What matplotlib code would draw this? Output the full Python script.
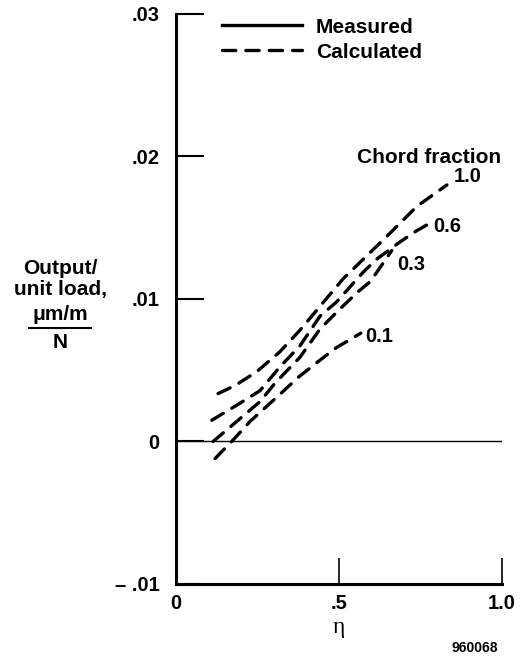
import numpy as np
import matplotlib.pyplot as plt
from matplotlib.lines import Line2D

plt.rcParams['font.family'] = ['Liberation Sans', 'DejaVu Sans']

# calculated curves (eta, output per unit load)
eta_10 = [0.129, 0.181, 0.248, 0.319, 0.380, 0.512, 0.647, 0.739, 0.831]
out_10 = [0.00336, 0.00392, 0.0049, 0.0063, 0.0078, 0.0114, 0.0144, 0.0165, 0.0180]

eta_06 = [0.110, 0.186, 0.258, 0.319, 0.380, 0.442, 0.493, 0.575, 0.616, 0.687, 0.739, 0.770]
out_06 = [0.00149, 0.00254, 0.00357, 0.00524, 0.0067, 0.0088, 0.0098, 0.0119, 0.0128,
          0.0140, 0.0148, 0.0152]

eta_03 = [0.114, 0.258, 0.304, 0.380, 0.442, 0.503, 0.558, 0.595, 0.617, 0.662]
out_03 = [0.0, 0.0028, 0.0041, 0.0059, 0.0079, 0.0093, 0.0105, 0.0112, 0.0119, 0.0134]

eta_01 = [0.120, 0.175, 0.227, 0.309, 0.375, 0.447, 0.493, 0.567]
out_01 = [-0.0012, 0.0001, 0.0014, 0.0031, 0.0045, 0.0058, 0.0066, 0.0076]

labels = ['1.0', '0.6', '0.3', '0.1']
label_pos = [(0.852, 0.0186), (0.788, 0.0151), (0.678, 0.01245), (0.580, 0.00734)]

xticks = [0, 0.5, 1.0]
xtick_labels = ['0', '.5', '1.0']
yticks = [-0.01, 0, 0.01, 0.02, 0.03]
ytick_labels = ['\u2013 .01', '0', '.01', '.02', '.03']

fig = plt.figure(figsize=(5.28, 6.58), dpi=100)
ax = fig.add_axes([0.3333, 0.1125, 0.6174, 0.8663])

dash = dict(color='black', lw=2.4, dashes=(4, 3.0), dash_capstyle='round')
for xs, ys in [(eta_10, out_10), (eta_06, out_06), (eta_03, out_03), (eta_01, out_01)]:
    ax.plot(xs, ys, **dash)

for lab, (lx, ly) in zip(labels, label_pos):
    ax.text(lx, ly, lab, fontsize=14.5, fontweight='bold', va='center', ha='left')
ax.text(0.776, 0.0199, 'Chord fraction', fontsize=15, fontweight='bold',
        va='center', ha='center')

ax.axhline(0, color='black', lw=1.0, xmin=0, xmax=1)

ax.set_xlim(0, 1.0)
ax.set_ylim(-0.01, 0.03)
ax.spines['top'].set_visible(False)
ax.spines['right'].set_visible(False)
ax.spines['left'].set_linewidth(2.2)
ax.spines['bottom'].set_linewidth(2.2)

ax.set_xticks(xticks)
ax.set_xticklabels(xtick_labels, fontsize=14.5, fontweight='bold')
ax.set_yticks(yticks)
ax.set_yticklabels(ytick_labels, fontsize=14.5, fontweight='bold')
ax.tick_params(axis='x', direction='in', length=19, width=1.2, pad=7)
ax.tick_params(axis='y', direction='in', length=20, width=1.5, pad=12)

ax.set_xlabel('\u03b7', fontsize=17, family='Liberation Serif', labelpad=3)

# legend
h1 = Line2D([], [], color='black', lw=2.4)
h2 = Line2D([], [], **dash)
ax.legend([h1, h2], ['Measured', 'Calculated'], loc='upper left',
          bbox_to_anchor=(0.108, 1.012), frameon=False, handlelength=3.85,
          handletextpad=0.67, labelspacing=0.3, borderpad=0,
          prop={'size': 15, 'weight': 'bold'})

# y axis title
fig.text(60 / 528, 1 - 268 / 658, 'Output/', fontsize=15, fontweight='bold',
         ha='center', va='center')
fig.text(60 / 528, 1 - 290 / 658, 'unit load,', fontsize=15, fontweight='bold',
         ha='center', va='center')
fig.text(60 / 528, 1 - 314 / 658, '\u03bcm/m', fontsize=15, fontweight='bold',
         ha='center', va='center')
fig.add_artist(Line2D([29 / 528, 91 / 528], [1 - 328 / 658, 1 - 328 / 658],
                      color='black', lw=1.5))
fig.text(60 / 528, 1 - 342 / 658, 'N', fontsize=15, fontweight='bold',
         ha='center', va='center')

fig.text(498 / 528, 1 - 648 / 658, '960068', fontsize=10, fontweight='bold',
         ha='right', va='center')

fig.savefig('out.png', dpi=100)
